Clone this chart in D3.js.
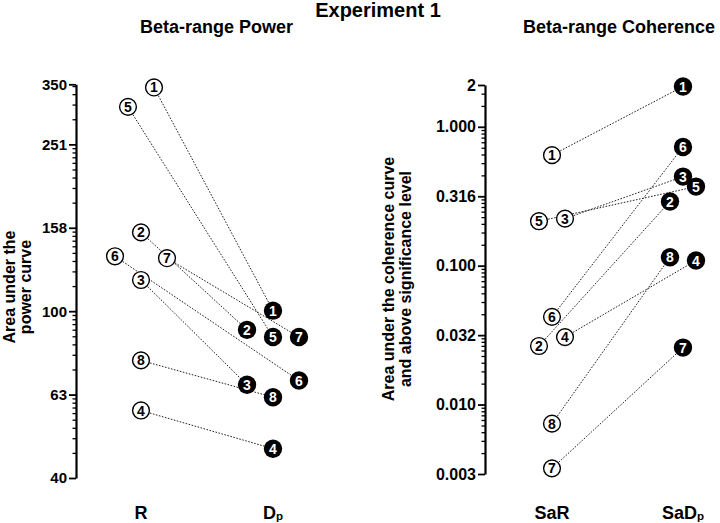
<!DOCTYPE html>
<html><head><meta charset="utf-8">
<script src="https://cdn.jsdelivr.net/npm/d3@7"></script>
<style>
body{margin:0;background:#fff}
text{font-family:"Liberation Sans",Arial,sans-serif;font-weight:bold;fill:#000}
</style>
</head><body>
<svg id="c" width="720" height="523"></svg>
<script>
// ---------- data ----------
const subjects = ["1","2","3","4","5","6","7","8"];
const powerGroups = ["R","Dp"];
const powerR  = [344, 154.5, 118.8, 57.8, 309, 135.4, 134, 76.2];
const powerDp = [100.3, 90.2, 66.6, 46.8, 86.7, 68.2, 86.7, 62.2];
const cohGroups = ["SaR","SaDp"];
const cohSaR  = [0.625, 0.0264, 0.218, 0.0306, 0.209, 0.0428, 0.00347, 0.00728];
const cohSaDp = [1.95, 0.290, 0.438, 0.109, 0.371, 0.716, 0.0257, 0.115];
// horizontal spreading of overlapping symbols (in symbol slots)
const powerRSlot  = [0.5, 0, 0, 0, -0.5, -1, 1, 0];
const powerDpSlot = [0, -1, -1, 0, 0, 1, 1, 0];
const cohSaRSlot  = [0, -0.5, 0.5, 0.5, -0.5, 0, 0, 0];
const cohSaDpSlot = [0, -0.5, 0, 0.5, 0.5, 0, 0, -0.5];
const powerTicks = [39.81, 63.1, 100, 158.5, 251.2, 350];
const powerTickLabels = ["40","63","100","158","251","350"];
const cohTicks = [0.00316, 0.01, 0.0316, 0.1, 0.316, 1, 2];
const cohTickLabels = ["0.003","0.010","0.032","0.100","0.316","1.000","2"];

// ---------- setup ----------
const svg = d3.select("#c");
const slotW = 26;

function minorTicks(majors, step, max){
  const out = [];
  majors.forEach(t => {
    const next = majors.find(m => m > t);
    for (let k = 2; k <= 9; k++){
      const v = t * Math.pow(10, step * Math.log10(k));
      if (v < max * 0.999 && (next === undefined || v < next * 0.999)) out.push(v);
    }
  });
  return out;
}

function label(sel, cat){
  if (cat.endsWith("Dp")){
    sel.text(cat.slice(0, -1));
    sel.append("tspan").attr("font-size", 11.5).attr("dy", 1).text("p");
  } else sel.text(cat);
}

function panel(opts){
  const {axisX, y, ticks, tickLabels, step, tickFont, groups, xr, a, b, sa, sb} = opts;
  const x = d3.scalePoint().domain(groups).range(xr);
  // major axis
  const g = svg.append("g").attr("transform", `translate(${axisX},0)`)
    .call(d3.axisLeft(y).tickValues(ticks).tickFormat((d,i)=>tickLabels[i])
      .tickSize(7).tickSizeOuter(0).tickPadding(2));
  g.select(".domain").attr("stroke","#000").attr("stroke-width",2.2);
  g.selectAll(".tick line").attr("stroke","#000").attr("stroke-width",1.8);
  g.selectAll(".tick text").attr("font-size", tickFont)
    .style("font-family","'Liberation Sans',Arial,sans-serif").style("font-weight","bold").attr("fill","#000");
  // minor ticks
  const gm = svg.append("g").attr("transform", `translate(${axisX},0)`)
    .call(d3.axisLeft(y).tickValues(minorTicks(ticks, step, y.domain()[1])).tickFormat("")
      .tickSize(3.5).tickSizeOuter(0));
  gm.select(".domain").remove();
  gm.selectAll(".tick line").attr("stroke","#000").attr("stroke-width",1.3);

  const pts = subjects.map((s,i)=>({
    s,
    x1: x(groups[0]) + sa[i]*slotW, y1: y(a[i]),
    x2: x(groups[1]) + sb[i]*slotW, y2: y(b[i])
  }));
  // connecting lines
  svg.append("g").selectAll("line").data(pts).join("line")
    .attr("x1",d=>d.x1).attr("y1",d=>d.y1).attr("x2",d=>d.x2).attr("y2",d=>d.y2)
    .attr("stroke","#222").attr("stroke-width",1).attr("stroke-dasharray","1.6,1.5");
  // open symbols
  const go = svg.append("g").selectAll("g").data(pts).join("g")
    .attr("transform",d=>`translate(${d.x1},${d.y1})`);
  go.append("circle").attr("r",8.4).attr("fill","#fff").attr("stroke","#000").attr("stroke-width",1.4);
  go.append("text").attr("text-anchor","middle").attr("dy","0.36em").attr("font-size",14).text(d=>d.s);
  // filled symbols
  const gf = svg.append("g").selectAll("g").data(pts).join("g")
    .attr("transform",d=>`translate(${d.x2},${d.y2})`);
  gf.append("circle").attr("r",9.2).attr("fill","#000");
  gf.append("text").attr("text-anchor","middle").attr("dy","0.36em").attr("font-size",14)
    .style("fill","#fff").text(d=>d.s);
  // category labels
  groups.forEach(c=>{
    const t = svg.append("text").attr("x", x(c)).attr("y", 519)
      .attr("text-anchor","middle").attr("font-size",18);
    label(t, c);
  });
}

// ---------- left panel ----------
const yP = d3.scaleLog().domain([39.81, 350]).range([478, 84.3]);
panel({axisX:76, y:yP, ticks:powerTicks, tickLabels:powerTickLabels, step:0.2, tickFont:15,
  groups:powerGroups, xr:[141,273], a:powerR, b:powerDp, sa:powerRSlot, sb:powerDpSlot});

// ---------- right panel ----------
const yC = d3.scaleLog().domain([0.00316, 2]).range([474, 85]);
panel({axisX:485, y:yC, ticks:cohTicks, tickLabels:cohTickLabels, step:0.5, tickFont:16,
  groups:cohGroups, xr:[552,683], a:cohSaR, b:cohSaDp, sa:cohSaRSlot, sb:cohSaDpSlot});

// ---------- titles ----------
svg.append("text").attr("x",378).attr("y",17).attr("text-anchor","middle").attr("font-size",20).text("Experiment 1");
svg.append("text").attr("x",216.5).attr("y",33).attr("text-anchor","middle").attr("font-size",18).text("Beta-range Power");
svg.append("text").attr("x",619).attr("y",33).attr("text-anchor","middle").attr("font-size",18).text("Beta-range Coherence");

function yTitle(xs, cy, lines){
  lines.forEach((l,i)=>{
    svg.append("text").attr("transform",`translate(${xs[i]},${cy}) rotate(-90)`)
      .attr("text-anchor","middle").attr("font-size",16).text(l);
  });
}
yTitle([15,31], 287, ["Area under the","power curve"]);
yTitle([394,411], 279, ["Area under the coherence curve","and above significance level"]);
</script>
</body></html>
